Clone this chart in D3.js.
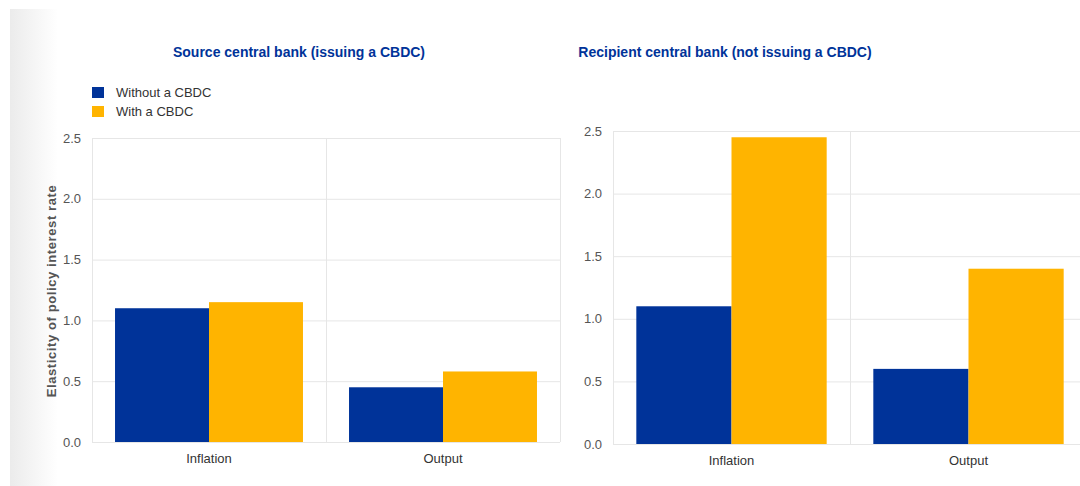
<!DOCTYPE html>
<html>
<head>
<meta charset="utf-8">
<script src="https://cdn.jsdelivr.net/npm/d3@7"></script>
<style>
  body { margin: 0; background: #fff; }
  text { font-family: "Liberation Sans", Arial, sans-serif; }
</style>
</head>
<body>
<div id="my_dataviz"></div>
<script>
// data
var categories = ["Inflation", "Output"];
var seriesNames = ["Without a CBDC", "With a CBDC"];
var colors = ["#003399", "#ffb400"];
var yTicks = [0, 0.5, 1.0, 1.5, 2.0, 2.5];
var sourceWithout = [1.1, 0.45];
var sourceWith = [1.15, 0.58];
var recipientWithout = [1.1, 0.6];
var recipientWith = [2.45, 1.4];

var svg = d3.select("#my_dataviz")
  .append("svg")
    .attr("width", 1080)
    .attr("height", 486);

// soft grey shading on the left edge
var grad = svg.append("defs").append("linearGradient")
    .attr("id", "edge").attr("x1", "0%").attr("x2", "100%");
grad.append("stop").attr("offset", "0%").attr("stop-color", "#ebebeb");
grad.append("stop").attr("offset", "100%").attr("stop-color", "#ffffff");
svg.append("rect").attr("x", 10).attr("y", 9).attr("width", 48).attr("height", 477)
    .attr("fill", "url(#edge)");

function drawPanel(opt) {
  var g = svg.append("g");

  var x = d3.scaleBand().domain(categories).range([opt.left, opt.right]);
  var x1 = d3.scaleBand().domain(seriesNames).range([0, x.bandwidth()]).paddingOuter(0.245);
  var y = d3.scaleLinear().domain([0, 2.5]).range([opt.bottom, opt.top]);

  // horizontal grid
  g.selectAll(".grid")
    .data(yTicks)
    .enter().append("line")
      .attr("x1", opt.left).attr("x2", opt.right)
      .attr("y1", function(d) { return y(d) + 0.5; })
      .attr("y2", function(d) { return y(d) + 0.5; })
      .attr("stroke", "#e6e6e6");

  // vertical separators between categories
  g.selectAll(".sep")
    .data(categories.concat(["end"]))
    .enter().append("line")
      .attr("x1", function(d, i) { return opt.left + i * x.bandwidth() + 0.5; })
      .attr("x2", function(d, i) { return opt.left + i * x.bandwidth() + 0.5; })
      .attr("y1", opt.top).attr("y2", opt.bottom)
      .attr("stroke", "#e6e6e6");

  // bars
  var rows = categories.map(function(c, i) {
    return [{cat: c, s: 0, v: opt.values[0][i]}, {cat: c, s: 1, v: opt.values[1][i]}];
  });
  g.selectAll(".grp")
    .data(rows)
    .enter().append("g")
      .attr("transform", function(d) { return "translate(" + x(d[0].cat) + ",0)"; })
    .selectAll("rect")
    .data(function(d) { return d; })
    .enter().append("rect")
      .attr("x", function(d) { return x1(seriesNames[d.s]); })
      .attr("y", function(d) { return y(d.v); })
      .attr("width", x1.bandwidth())
      .attr("height", function(d) { return y(0) - y(d.v); })
      .attr("fill", function(d) { return colors[d.s]; });

  // y axis labels
  var yAxis = g.append("g")
    .attr("transform", "translate(" + (opt.left - 11) + ",0)")
    .call(d3.axisLeft(y).tickValues(yTicks).tickFormat(d3.format(".1f")).tickSize(0).tickPadding(0));
  yAxis.select(".domain").remove();
  yAxis.selectAll("text").attr("fill", "#555").style("font-size", "13px");

  // x axis labels
  var xAxis = g.append("g")
    .attr("transform", "translate(0," + (opt.bottom + 12) + ")")
    .call(d3.axisBottom(x).tickSize(0).tickPadding(0));
  xAxis.select(".domain").remove();
  xAxis.selectAll("text").attr("fill", "#333").style("font-size", "13px");

  // title
  g.append("text")
    .attr("x", opt.titleX).attr("y", 57)
    .attr("text-anchor", "middle")
    .attr("fill", "#003399")
    .style("font-size", "14px").style("font-weight", "bold")
    .text(opt.title);
}

drawPanel({
  left: 92, right: 560, top: 138, bottom: 442,
  titleX: 299, title: "Source central bank (issuing a CBDC)",
  values: [sourceWithout, sourceWith]
});
drawPanel({
  left: 613, right: 1087, top: 131, bottom: 444,
  titleX: 725, title: "Recipient central bank (not issuing a CBDC)",
  values: [recipientWithout, recipientWith]
});

// legend
var legend = svg.selectAll(".legend")
  .data(seriesNames)
  .enter().append("g")
    .attr("transform", function(d, i) { return "translate(92," + (87 + i * 19) + ")"; });
legend.append("rect").attr("width", 12).attr("height", 11)
  .attr("fill", function(d, i) { return colors[i]; });
legend.append("text").attr("x", 24).attr("y", 10)
  .attr("fill", "#333").style("font-size", "13px")
  .text(function(d) { return d; });

// y axis title
svg.append("text")
  .attr("transform", "translate(56,291) rotate(-90)")
  .attr("text-anchor", "middle")
  .attr("fill", "#555")
  .style("font-size", "13px").style("font-weight", "bold")
  .style("letter-spacing", "0.6px")
  .text("Elasticity of policy interest rate");
</script>
</body>
</html>
